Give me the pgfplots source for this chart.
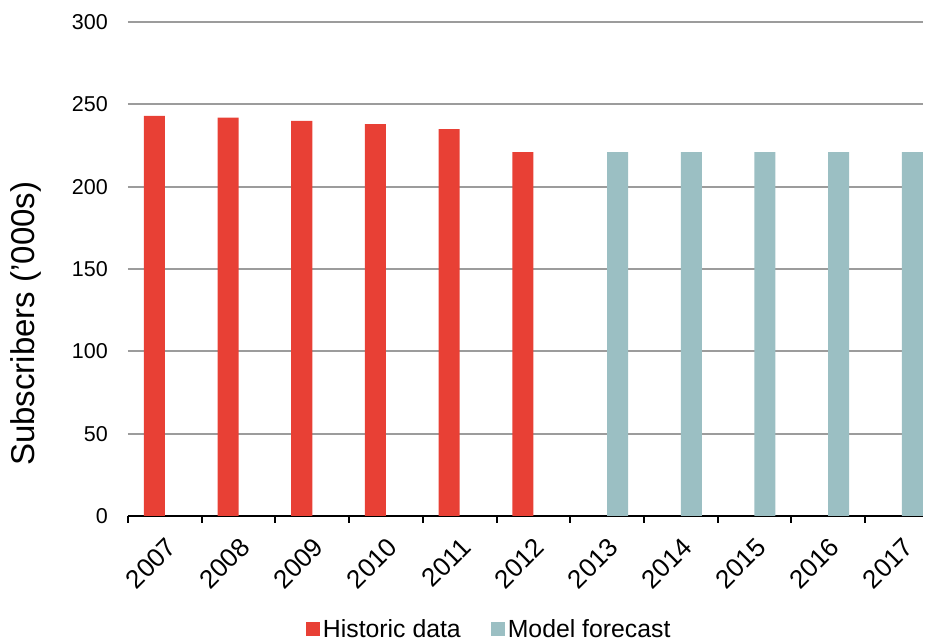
\documentclass[border=0pt]{standalone}
\usepackage{pgfplots}
\pgfplotsset{compat=1.18}
\usepackage{fontspec}
\setmainfont{Liberation Sans}
\definecolor{histred}{HTML}{E84035}
\definecolor{fctteal}{HTML}{9BBFC3}
\definecolor{gridgray}{HTML}{9C9C9C}
\begin{document}
\begin{tikzpicture}
\path[use as bounding box] (0pt,0pt) rectangle (930pt,639pt);
\begin{axis}[
  at={(128pt,123pt)}, anchor=south west,
  scale only axis,
  width=795pt, height=494pt,
  xmin=-0.5, xmax=10.287,
  ymin=0, ymax=300,
  ytick={0,50,...,300},
  xtick={0,1,...,10},
  xticklabels={2007,2008,2009,2010,2011,2012,2013,2014,2015,2016,2017},
  minor xtick={-0.5,0.5,...,9.5},
  major tick length=0pt,
  minor tick length=7pt,
  tick align=outside,
  every minor tick/.append style={line width=2pt, black},
  axis x line*=bottom,
  axis y line*=left,
  x axis line style={line width=2pt, black, -},
  y axis line style={draw=none},
  ytick style={draw=none},
  ymajorgrids,
  grid style={gridgray, line width=2pt},
  /pgf/number format/assume math mode=true,
  yticklabel style={font=\fontsize{21.5}{25}\selectfont, inner sep=0pt, anchor=east, xshift=-20pt},
  xticklabel style={font=\fontsize{26}{30}\selectfont, yshift=-20pt, rotate=45, anchor=north east, inner sep=0pt},
  ylabel={Subscribers ('000s)},
  ylabel style={font=\fontsize{33}{36}\selectfont, at={(axis description cs:-0.1283,0.389)}, anchor=center},
  clip=false,
  legend columns=2,
  legend style={at={(axis description cs:0.455,-0.229)}, anchor=center, draw=none, fill=none,
    font=\fontsize{24.8}{28}\selectfont,
    /tikz/every even column/.append style={column sep=27pt},
    nodes={inner sep=3pt}},
  legend image code/.code={\fill[#1] (-3pt,-7pt) rectangle (11pt,7pt);},
]
\addplot[ybar, bar width=0.285, bar shift=-0.1425, fill=histred, draw=none]
  coordinates {(0,243) (1,242) (2,240) (3,238) (4,235) (5,221)};
\addlegendentry{Historic data}
\addplot[ybar, bar width=0.285, bar shift=0.1425, fill=fctteal, draw=none]
  coordinates {(6,221) (7,221) (8,221) (9,221) (10,221)};
\addlegendentry{Model forecast}
\end{axis}
\end{tikzpicture}
\end{document}
